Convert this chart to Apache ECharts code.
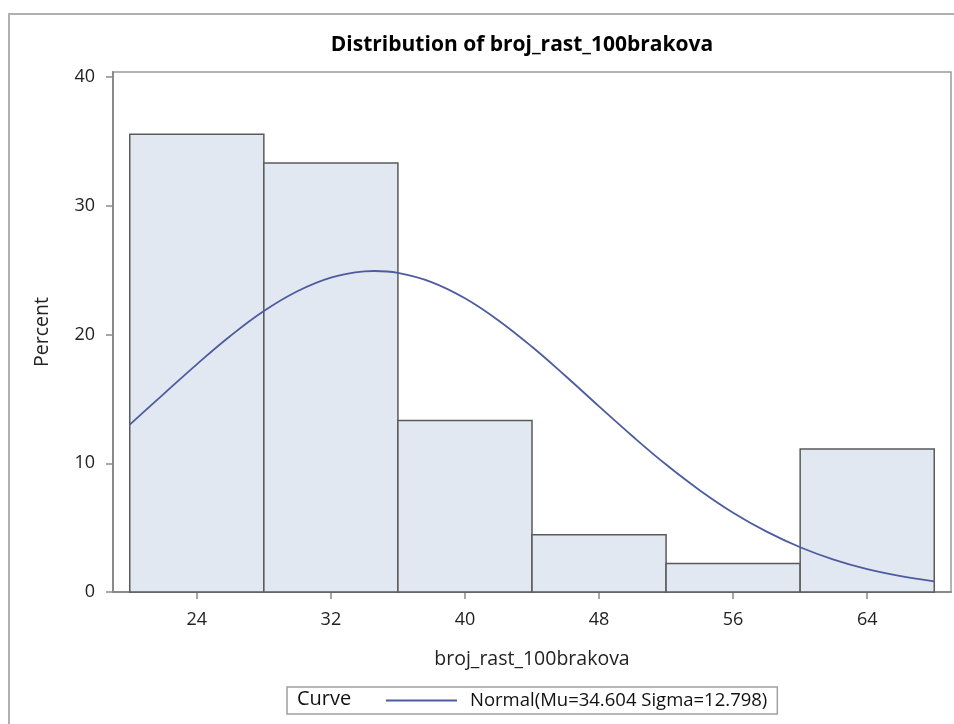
<!DOCTYPE html>
<html>
<head>
<meta charset="utf-8">
<script src="https://cdn.jsdelivr.net/npm/echarts@6/dist/echarts.min.js"></script>
<style>
  html, body { margin: 0; padding: 0; background: #fff; }
  #chart { width: 954px; height: 724px; }
</style>
</head>
<body>
<div id="chart"></div>
<script>
// histogram bins (percent of observations)
const binStart = [20, 28, 36, 44, 52, 60];
const binEnd = [28, 36, 44, 52, 60, 68];
const percent = [35.56, 33.33, 13.33, 4.44, 2.22, 11.11];

// fitted normal curve
const curveX = [20, 22, 24, 26, 28, 30, 32, 34, 34.6, 36, 38, 40, 42, 44, 46, 48, 50, 52, 54, 56, 58, 60, 62, 64, 66, 68];
const curveY = [13.00, 15.36, 17.69, 19.89, 21.83, 23.37, 24.43, 24.91, 24.94, 24.79, 24.08, 22.82, 21.10, 19.05, 16.78, 14.42, 12.10, 9.90, 7.91, 6.16, 4.69, 3.48, 2.52, 1.78, 1.23, 0.83];

const xTicks = [24, 32, 40, 48, 56, 64];
const yTicks = [0, 10, 20, 30, 40];

const font = 'Open Sans';
const chart = echarts.init(document.getElementById('chart'));

const option = {
  animation: false,
  backgroundColor: '#fff',
  title: {
    text: 'Distribution of broj_rast_100brakova',
    left: 517,
    top: 30,
    textAlign: 'center',
    textStyle: { fontFamily: font, fontSize: 21, fontWeight: 'bold', color: '#000' }
  },
  graphic: [
    {
      type: 'rect',
      shape: { x: 9, y: 14, width: 980, height: 760 },
      style: { fill: 'none', stroke: '#b0b0b0', lineWidth: 2 },
      silent: true
    },
    {
      type: 'text',
      left: 297,
      top: 689,
      style: { text: 'Curve', fontFamily: font, fontSize: 20, fill: '#111' },
      z: 10
    }
  ],
  legend: {
    left: 287,
    top: 687,
    padding: [4, 10, 4, 99],
    borderColor: '#a0a0a0',
    borderWidth: 1.5,
    icon: 'rect',
    itemWidth: 71,
    itemHeight: 2,
    textStyle: { fontFamily: font, fontSize: 18.5, color: '#111', padding: [0, 0, 0, 8] },
    data: ['Normal(Mu=34.604 Sigma=12.798)']
  },
  grid: {
    left: 113, top: 72, right: 3, bottom: 132,
    show: true, borderColor: '#9a9a9a', borderWidth: 1.5, backgroundColor: '#fff'
  },
  xAxis: {
    type: 'value',
    min: 19, max: 69,
    name: 'broj_rast_100brakova',
    nameLocation: 'middle',
    nameGap: 57,
    nameTextStyle: { fontFamily: font, fontSize: 19.5, color: '#222' },
    axisLine: { show: true, lineStyle: { color: '#8a8a8a', width: 2 } },
    axisTick: { show: true, length: 7, customValues: xTicks, lineStyle: { color: '#8a8a8a', width: 1.5 } },
    axisLabel: { customValues: xTicks, margin: 19, fontFamily: font, fontSize: 18, color: '#222' },
    splitLine: { show: false }
  },
  yAxis: {
    type: 'value',
    min: 0, max: 40.4,
    name: 'Percent',
    nameLocation: 'middle',
    nameGap: 61,
    nameTextStyle: { fontFamily: font, fontSize: 19.5, color: '#222' },
    axisLine: { show: true, lineStyle: { color: '#8a8a8a', width: 2 } },
    axisTick: { show: true, length: 7, customValues: yTicks, lineStyle: { color: '#8a8a8a', width: 1.5 } },
    axisLabel: { customValues: yTicks, margin: 18, fontFamily: font, fontSize: 18, color: '#222' },
    splitLine: { show: false }
  },
  series: [
    {
      name: 'Histogram',
      type: 'custom',
      data: binStart.map((s, i) => [s, binEnd[i], percent[i]]),
      encode: { x: [0, 1], y: 2 },
      renderItem: function (params, api) {
        const topLeft = api.coord([api.value(0), api.value(2)]);
        const bottomRight = api.coord([api.value(1), 0]);
        return {
          type: 'rect',
          shape: {
            x: topLeft[0], y: topLeft[1],
            width: bottomRight[0] - topLeft[0],
            height: bottomRight[1] - topLeft[1]
          },
          style: { fill: '#e2e8f1', stroke: '#5a5a5a', lineWidth: 1.5 }
        };
      },
      z: 2
    },
    {
      name: 'Normal(Mu=34.604 Sigma=12.798)',
      type: 'line',
      data: curveX.map((x, i) => [x, curveY[i]]),
      smooth: 0.4,
      symbol: 'none',
      lineStyle: { color: '#4d5c9e', width: 1.8 },
      itemStyle: { color: '#4d5c9e' },
      z: 5
    }
  ]
};

chart.setOption(option);
</script>
</body>
</html>
